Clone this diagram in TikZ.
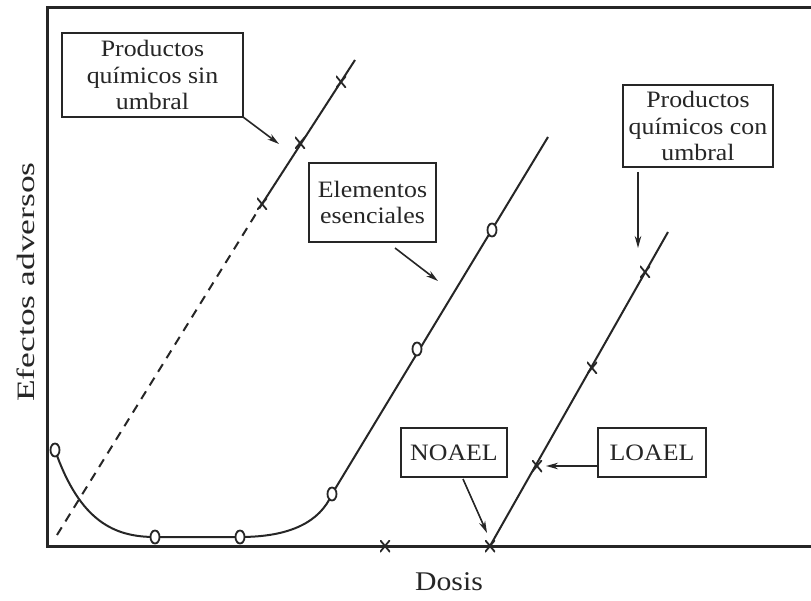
\documentclass[tikz,border=0pt]{standalone}
\usepackage{fontspec}
\setmainfont{Liberation Serif}[FakeStretch=1.1]
\newfontfamily\ylabfont{Liberation Serif}[FakeStretch=1.42]
\usetikzlibrary{arrows.meta,shapes.geometric}
\begin{document}
\begin{tikzpicture}[x=1pt,y=-1pt,
  frame/.style={line width=3pt, draw=black!85},
  curve/.style={line width=2pt, draw=black!85},
  box/.style={draw=black!85, line width=2.4pt, inner sep=0pt, align=center,
    font=\fontsize{23.5}{26.5}\selectfont, text=black!85},
  arr/.style={line width=1.6pt, draw=black!85, -{Stealth[length=12pt,width=6.5pt]}},
  circmark/.style={ellipse, draw=black!85, line width=1.8pt, minimum width=9pt, minimum height=13pt, inner sep=0pt, fill=white},
  xmark/.style={minimum width=10pt, minimum height=12pt, inner sep=0pt, path picture={
     \draw[line width=1.8pt, black!85] (path picture bounding box.north west) -- (path picture bounding box.south east)
       (path picture bounding box.north east) -- (path picture bounding box.south west);}},
  axlabel/.style={font=\fontsize{27}{30}\selectfont, text=black!85}
]
\useasboundingbox (0,0) rectangle (811,601);
\fill[white] (0,0) rectangle (811,601);

% frame
\draw[frame] (811,8) -- (47,8) -- (47,546) -- (811,546);

% axis labels
\node[axlabel, font=\ylabfont\fontsize{25}{28}\selectfont, rotate=90] (ylab) at (26,282) {Efectos adversos};
\node[axlabel] (xlab) at (449,582) {Dosis};

% chemicals without threshold
\coordinate (s0) at (57,535);
\coordinate (s4) at (355,60);
\node[xmark] (s1) at (262,204) {};
\node[xmark] (s2) at (300,143) {};
\node[xmark] (s3) at (341,82) {};
\draw[curve, dash pattern=on 9pt off 7pt] (s0) -- (s1.center);
\draw[curve] (s1.center) -- (s4);

% essential elements
\coordinate (e7) at (548,137);
\draw[curve] (55,450) .. controls (80,522) and (115,537) .. (155,537) -- (240,537)
  .. controls (290,537) and (320,522) .. (332,494) -- (e7);
\node[circmark] (e1) at (55,450) {};
\node[circmark] (e2) at (155,537) {};
\node[circmark] (e3) at (240,537) {};
\node[circmark] (e4) at (332,494) {};
\node[circmark] (e5) at (417,349) {};
\node[circmark] (e6) at (492,230) {};

% chemicals with threshold
\coordinate (t5) at (668,232);
\node[xmark] (t1) at (490,546) {};
\node[xmark] (t2) at (537,466) {};
\node[xmark] (t3) at (592,368) {};
\node[xmark] (t4) at (645,272) {};
\draw[curve] (t1.center) -- (t5);
\node[xmark] (x0) at (385,546) {};

% boxes
\node[box, minimum width=181pt, minimum height=84pt] (bsin) at (152.5,75)
  {Productos\\químicos sin\\umbral};
\node[box, minimum width=127pt, minimum height=79pt] (bess) at (372.5,202.5)
  {Elementos\\esenciales};
\node[box, minimum width=150pt, minimum height=82pt] (bcon) at (698,126)
  {Productos\\químicos con\\umbral};
\node[box, minimum width=106pt, minimum height=49pt] (bno) at (454,452.5) {NOAEL};
\node[box, minimum width=108pt, minimum height=49pt] (blo) at (652,452.5) {LOAEL};

% arrows
\coordinate (a1s) at (243,117); \coordinate (a1e) at (279,144);
\coordinate (a2s) at (395,248); \coordinate (a2e) at (438,281);
\coordinate (a3s) at (638,172); \coordinate (a3e) at (638,248);
\coordinate (a4s) at (463,479); \coordinate (a4e) at (487,533);
\coordinate (a5s) at (598,466); \coordinate (a5e) at (546,466);
\draw[arr] (a1s) -- (a1e);
\draw[arr] (a2s) -- (a2e);
\draw[arr] (a3s) -- (a3e);
\draw[arr] (a4s) -- (a4e);
\draw[arr] (a5s) -- (a5e);
\end{tikzpicture}
\end{document}
